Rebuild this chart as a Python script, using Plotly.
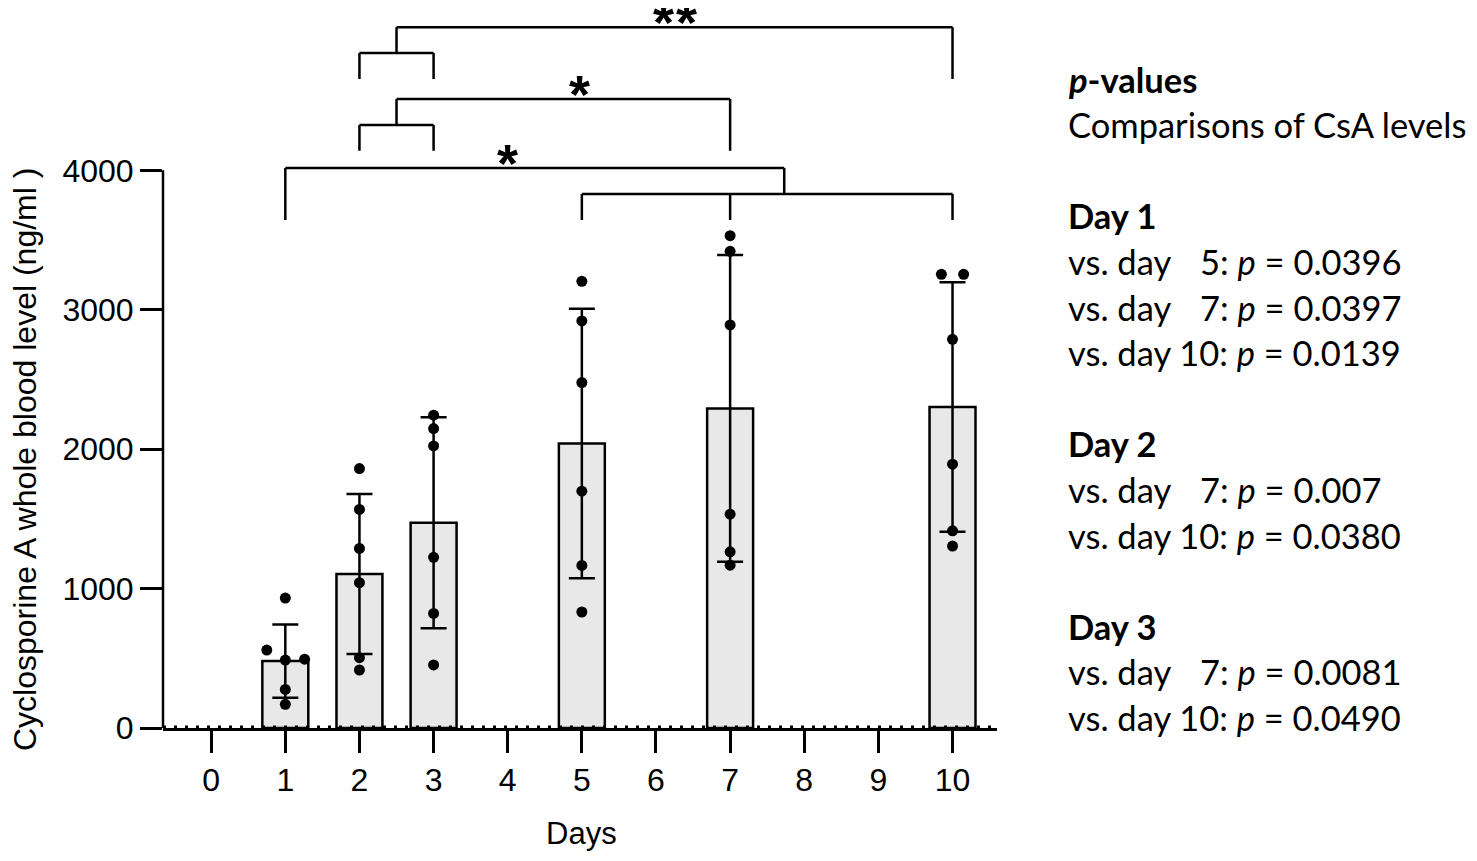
import plotly.graph_objects as go

# Cyclosporine A whole blood levels per day (ng/ml)
days = [1, 2, 3, 5, 7, 10]
mean_level = [480, 1104, 1472, 2041, 2292, 2303]
sd_level = [263, 574, 757, 967, 1100, 895]

day1_values = [932, 559, 487, 494, 277, 170]
day2_values = [1861, 1568, 1288, 1042, 504, 416]
day3_values = [2244, 2148, 2023, 1224, 822, 452]
day5_values = [3204, 2920, 2478, 1699, 1166, 832]
day7_values = [3531, 3419, 2891, 1534, 1264, 1168]
day10_values = [3254, 3254, 2788, 1892, 1414, 1305]
point_values = [day1_values, day2_values, day3_values, day5_values, day7_values, day10_values]

# sideways spread of overlapping dots (in days)
point_jitter = [
    [0, -0.25, 0, 0.26, 0, 0],
    [0, 0, 0, 0, 0, 0],
    [0, 0, 0, 0, 0, 0],
    [0, 0, 0, 0, 0, 0],
    [0, 0, 0, 0, 0, 0],
    [-0.15, 0.15, 0, 0, 0, 0],
]

x_ticks = [0, 1, 2, 3, 4, 5, 6, 7, 8, 9, 10]
y_ticks = [0, 1000, 2000, 3000, 4000]

# significance brackets: left group, right group, where the group joins, number of stars
comparisons = [
    {"left": [2, 3], "right": [10], "join_left": 2.5, "join_right": 10, "stars": 2, "star_x": 6.25},
    {"left": [2, 3], "right": [7], "join_left": 2.5, "join_right": 7, "stars": 1, "star_x": 4.97},
    {"left": [1], "right": [5, 7, 10], "join_left": 1, "join_right": 7.73, "stars": 1, "star_x": 4.0},
]
bracket_tops = [5027, 4512, 4016]

# p-value panel text
panel_lines = [
    "<b><i>p</i>-values</b>",
    "Comparisons of CsA levels",
    "",
    "<b>Day 1</b>",
    "vs. day\u2007\u00a05: <i>p</i> = 0.0396",
    "vs. day\u2007\u00a07: <i>p</i> = 0.0397",
    "vs. day 10: <i>p</i> = 0.0139",
    "",
    "<b>Day 2</b>",
    "vs. day\u2007\u00a07: <i>p</i> = 0.007",
    "vs. day 10: <i>p</i> = 0.0380",
    "",
    "<b>Day 3</b>",
    "vs. day\u2007\u00a07: <i>p</i> = 0.0081",
    "vs. day 10: <i>p</i> = 0.0490",
]

# page body has an 8px margin, figure sits inside it
OFF = 8
W, H = 1461, 845
ML, MR, MT, MB = 155, 472, 2, 125
X_RANGE = [-0.65, 10.6]
Y_RANGE = [0, 5150]
PLOT_H = H - MT - MB
PLOT_W = W - ML - MR

ARIAL = "Arial, Liberation Sans, sans-serif"
axis_font = dict(family=ARIAL, size=32, color="black")

fig = go.Figure()

fig.add_trace(
    go.Bar(
        x=days,
        y=mean_level,
        width=0.62,
        marker=dict(color="#e8e8e8", line=dict(color="black", width=2.5)),
        error_y=dict(type="data", array=sd_level, color="black", thickness=2.5, width=13),
        showlegend=False,
    )
)

px_x, px_y = [], []
for d, vals, jit in zip(days, point_values, point_jitter):
    for v, j in zip(vals, jit):
        px_x.append(d + j)
        px_y.append(v)

fig.add_trace(
    go.Scatter(
        x=px_x,
        y=px_y,
        mode="markers",
        marker=dict(color="black", size=11),
        showlegend=False,
        cliponaxis=False,
    )
)

# brackets
drop_sub = 186
drop_leg = 372
star_gap = 23  # px between neighbouring stars
for comp, top in zip(comparisons, bracket_tops):
    path = f"M {comp['join_left']},{top} L {comp['join_right']},{top}"
    for side, join in (("left", comp["join_left"]), ("right", comp["join_right"])):
        group = comp[side]
        if len(group) == 1:
            path += f" M {group[0]},{top} L {group[0]},{top - drop_leg}"
        else:
            path += f" M {join},{top} L {join},{top - drop_sub}"
            path += f" M {min(group)},{top - drop_sub} L {max(group)},{top - drop_sub}"
            for g in group:
                path += f" M {g},{top - drop_sub} L {g},{top - drop_leg}"
    fig.add_shape(type="path", path=path, xref="x", yref="y",
                  line=dict(color="black", width=2.5))
    n = comp["stars"]
    for k in range(n):
        fig.add_annotation(
            x=comp["star_x"], y=top, xref="x", yref="y",
            text="<b>*</b>", showarrow=False,
            font=dict(family=ARIAL, size=54, color="black"),
            yanchor="bottom", yshift=-27,
            xshift=(k - (n - 1) / 2) * star_gap,
        )

# y axis line only up to 4000, plus dotted baseline at zero
fig.add_shape(type="line", xref="paper", yref="y", x0=0, x1=0, y0=0, y1=4000,
              line=dict(color="black", width=2.5))
fig.add_shape(type="line", xref="paper", yref="paper", x0=0, x1=1, y0=0, y1=0,
              line=dict(color="black", width=5, dash="3px,8px"))

fig.update_xaxes(
    range=X_RANGE,
    tickvals=x_ticks,
    ticktext=[str(t) for t in x_ticks],
    ticks="outside",
    ticklen=22,
    tickwidth=2.5,
    tickcolor="black",
    ticklabelstandoff=0,
    showline=True,
    linecolor="black",
    linewidth=2.5,
    showgrid=False,
    zeroline=False,
    tickfont=axis_font,
)
fig.update_yaxes(
    range=Y_RANGE,
    tickvals=y_ticks,
    ticks="outside",
    ticklen=22,
    tickwidth=2.5,
    tickcolor="black",
    ticklabelstandoff=0,
    showline=False,
    showgrid=False,
    zeroline=False,
    tickfont=axis_font,
)


def paper_x(px):
    # px is a page pixel from the reference
    return (px - OFF - ML) / PLOT_W


def paper_y(py):
    return (H - MB - (py - OFF)) / PLOT_H


# axis titles
fig.add_annotation(
    x=paper_x(25), y=paper_y(460), xref="paper", yref="paper",
    xanchor="center", yanchor="middle",
    text="Cyclosporine A whole blood level (ng/ml )", textangle=-90,
    showarrow=False, font=dict(family=ARIAL, size=32, color="black"),
)
fig.add_annotation(
    x=paper_x(581), y=paper_y(833), xref="paper", yref="paper",
    xanchor="center", yanchor="middle",
    text="Days", showarrow=False,
    font=dict(family=ARIAL, size=31, color="black"),
)

# p-value panel
line_step = 45.6
for i, line in enumerate(panel_lines):
    if not line:
        continue
    fig.add_annotation(
        x=paper_x(1066), y=paper_y(79 + i * line_step), xref="paper", yref="paper",
        text=line, showarrow=False, xanchor="left", yanchor="middle",
        font=dict(family="Lato, sans-serif", size=34.5, color="black"),
    )

fig.update_layout(
    width=W,
    height=H,
    margin=dict(l=ML, r=MR, t=MT, b=MB, autoexpand=False),
    paper_bgcolor="white",
    plot_bgcolor="white",
    showlegend=False,
)

fig.write_html("out.html")
